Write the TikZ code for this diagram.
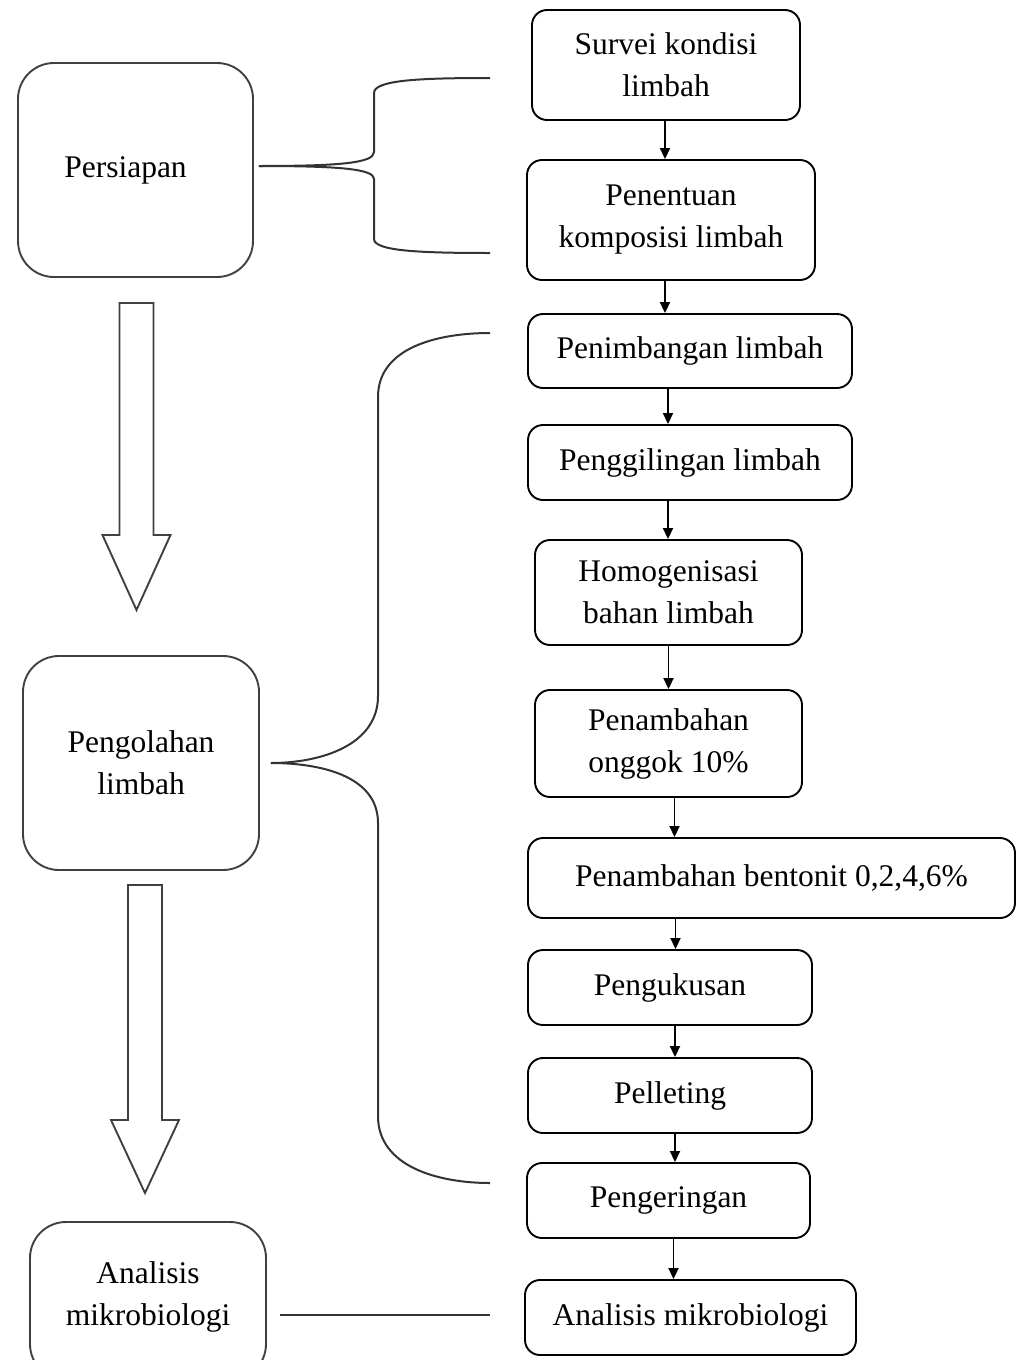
\documentclass[tikz,border=0pt]{standalone}
\usepackage{fontspec}
\setmainfont{Liberation Serif}
\usepackage{tikz}
\usetikzlibrary{positioning,arrows.meta}

\tikzset{
  stepbox/.style={draw, rounded corners=15pt, line width=1.9pt, align=center,
    inner sep=0pt, font=\fontsize{31.5}{42}\selectfont},
  phasebox/.style={stepbox, rounded corners=36pt, draw=black!75},
  arr/.style={line width=1.8pt, -{Triangle[width=10pt,length=11pt]}},
  brace/.style={line width=2pt, draw=black!80},
  bigarrow/.style={line width=1.9pt, draw=black!75},
}

\begin{document}
\begin{tikzpicture}[x=1pt,y=1pt]
  \useasboundingbox (0,0) rectangle (1019,-1360);
  \clip (0,0) rectangle (1019,-1360);

  % phases
  \node[phasebox, minimum width=235pt, minimum height=214pt] (pers) at (135.5,-170) {Persiapan\hspace*{20pt}};
  \node[phasebox, minimum width=236pt, minimum height=214pt] (olah) at (141,-763) {Pengolahan\\limbah};
  \node[phasebox, minimum width=236pt, minimum height=158pt] (analL) at (148,-1301) {Analisis\\mikrobiologi\\[-28pt]};

  % steps
  \node[stepbox, minimum width=268pt, minimum height=110pt] (surv) at (666,-65) {Survei kondisi\\limbah};
  \node[stepbox, minimum width=288pt, minimum height=120pt] (komp) at (671,-220) {Penentuan\\komposisi limbah};
  \node[stepbox, minimum width=324pt, minimum height=74pt] (timb) at (690,-351) {Penimbangan limbah};
  \node[stepbox, minimum width=324pt, minimum height=75pt] (giling) at (690,-462.5) {Penggilingan limbah};
  \node[stepbox, minimum width=267pt, minimum height=105pt] (homog) at (668.5,-592.5) {Homogenisasi\\bahan limbah};
  \node[stepbox, minimum width=267pt, minimum height=107pt] (onggok) at (668.5,-743.5) {Penambahan\\onggok 10\%};
  \node[stepbox, minimum width=487pt, minimum height=80pt] (bento) at (771.5,-878) {Penambahan bentonit 0,2,4,6\%};
  \node[stepbox, minimum width=284pt, minimum height=75pt] (kukus) at (670,-987.5) {Pengukusan};
  \node[stepbox, minimum width=284pt, minimum height=75pt] (pellet) at (670,-1095.5) {Pelleting};
  \node[stepbox, minimum width=283pt, minimum height=75pt] (kering) at (668.5,-1200.5) {Pengeringan};
  \node[stepbox, minimum width=331pt, minimum height=75pt] (anal) at (690.5,-1317.5) {Analisis mikrobiologi};

  % step arrows
  \foreach \a/\b/\dx in {surv/komp/-1, komp/timb/-6, timb/giling/-22, giling/homog/-22,
      homog/onggok/0, onggok/bento/6, bento/kukus/-96, kukus/pellet/5, pellet/kering/5, kering/anal/5}
    \draw[arr] (\a.south) ++(\dx,0) coordinate (t) -- (t |- \b.north);

  % big arrows between phases
  \foreach \cx/\ya/\yb/\yc in {136.5/303/535/610, 145/885/1120/1193}
    \draw[bigarrow] (\cx-17,-\ya) -- (\cx+17,-\ya) -- (\cx+17,-\yb) -- (\cx+34,-\yb)
      -- (\cx,-\yc) -- (\cx-34,-\yb) -- (\cx-17,-\yb) -- cycle;

  % braces
  \coordinate (b1a) at (490,-78);
  \coordinate (b1b) at (490,-253);
  \coordinate (b2a) at (490,-333);
  \coordinate (b2b) at (490,-1183);
  \path (pers.east) ++(5,4) coordinate (t1);
  \draw[brace] (t1) .. controls (340,-166) and (374,-163) .. (374,-152)
    -- (374,-93) .. controls (374,-80) and (420,-78) .. (b1a);
  \draw[brace] (t1) .. controls (340,-166) and (374,-169) .. (374,-179)
    -- (374,-239) .. controls (374,-251) and (420,-253) .. (b1b);
  \draw[brace] ([xshift=11pt]olah.east) coordinate (t2) to[out=0,in=-90] (378,-696)
    -- (378,-397) to[out=90,in=180] (b2a);
  \draw[brace] (t2) to[out=0,in=90] (378,-823) -- (378,-1116) to[out=-90,in=180] (b2b);

  % last link
  \path (analL.east |- anal.west) ++(13,3) coordinate (m1);
  \path (anal.west) ++(-34,3) coordinate (m2);
  \draw[brace] (m1) -- (m2);
\end{tikzpicture}
\end{document}
